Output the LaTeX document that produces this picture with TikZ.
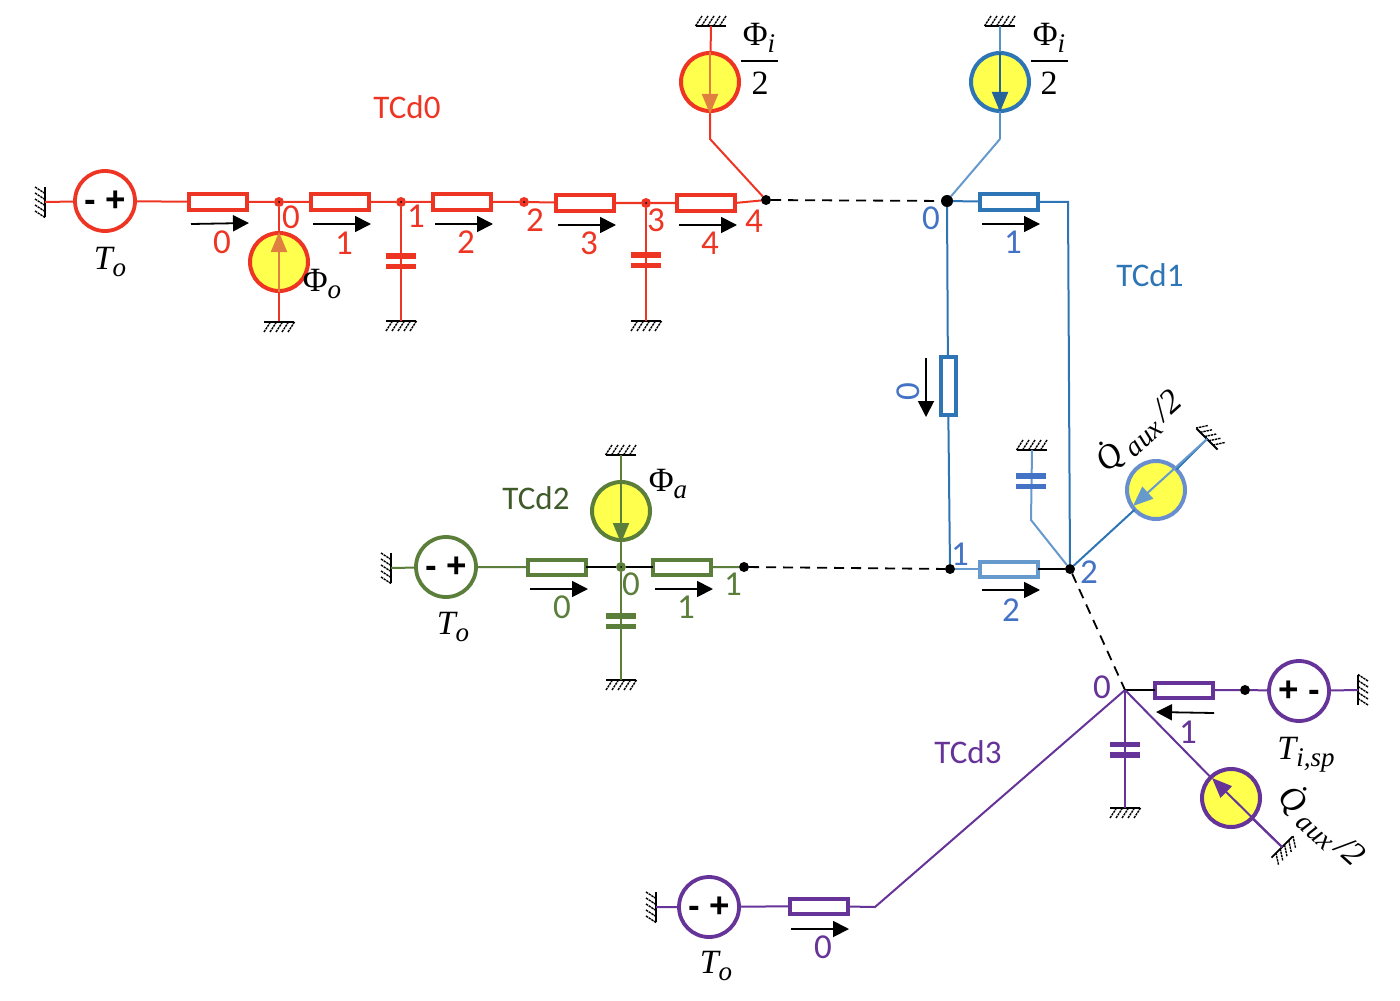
\documentclass[tikz,border=0pt]{standalone}
\usepackage{fontspec}
\setmainfont{Carlito}
\newfontfamily\srcfont{Liberation Sans}
\newfontfamily\mfont{Liberation Serif}
\usetikzlibrary{arrows.meta}
\definecolor{cred}{HTML}{EE3524}
\definecolor{corange}{HTML}{E08040}
\definecolor{cblue}{HTML}{2E75B6}
\definecolor{clblue}{HTML}{6699CC}
\definecolor{cnblue}{HTML}{4472C4}
\definecolor{cgreen}{HTML}{5B7F3B}
\definecolor{cdgreen}{HTML}{3F5B2A}
\definecolor{cpurple}{HTML}{663399}
\definecolor{cyel}{HTML}{FFFF4D}
\tikzset{
  wire/.style={line width=1pt},
  dashwire/.style={line width=0.9pt,black,dash pattern=on 5pt off 3.5pt},
  resh/.style={draw,line width=2pt,fill=white,minimum width=29pt,minimum height=7.5pt,inner sep=0pt,outer sep=0pt},
  resv/.style={draw,line width=2pt,fill=white,minimum width=7.5pt,minimum height=29pt,inner sep=0pt,outer sep=0pt},
  vsrc/.style={circle,draw,line width=1.9pt,fill=white,minimum size=30pt,inner sep=0pt,outer sep=0pt,text=black,font=\srcfont\bfseries\fontsize{17.5}{17.5}\selectfont},
  fsrc/.style={circle,draw,line width=2pt,fill=cyel,minimum size=29pt,inner sep=0pt,outer sep=0pt},
  dotk/.style={circle,fill=black,inner sep=0pt,outer sep=0pt,minimum size=5pt},
  dotb/.style={circle,fill=black,inner sep=0pt,outer sep=0pt,minimum size=6pt},
  dotc/.style={circle,fill=#1,inner sep=0pt,outer sep=0pt,minimum size=5pt,path picture={\fill[black] (path picture bounding box.center) circle (0.5pt);}},
  plate/.style={line width=2.8pt},
  flowarr/.style={line width=0.9pt,black,-{Triangle[length=8pt,width=8pt]}},
  inarr/.style={line width=1pt,-{Triangle[length=10pt,width=8pt]}},
  lab/.style={font=\fontsize{17.5}{17.5}\selectfont,inner sep=0pt},
  ttl/.style={font=\fontsize{16.5}{16.5}\selectfont,inner sep=0pt},
  mth/.style={font=\mfont\fontsize{17}{17}\selectfont,inner sep=0pt,text=black},
  gnd/.pic={
    \draw[black,line width=0.9pt] (-15,0)--(15,0);
    \foreach \q in {-12,-6,0,6,12} \draw[black,line width=0.7pt,dash pattern=on 1.2pt off 0.4pt] (\q-3,10)--(\q+3.5,0);
  }
}
\newcommand{\flowa}[3]{\coordinate (#1s) at (#2); \coordinate (#1e) at (#3); \draw[flowarr] (#1s)--(#1e);}
\newcommand{\capa}[3]{\draw[plate,#1] (#2-15,#3)--(#2+15,#3); \draw[plate,#1] (#2-15,#3+10.5)--(#2+15,#3+10.5);}
\newcommand{\msub}[2]{{\itshape #1\raisebox{-3.5pt}{\fontsize{13.5}{13.5}\selectfont #2}}}
\newcommand{\msubu}[2]{{#1\raisebox{-3.5pt}{\fontsize{13.5}{13.5}\selectfont\itshape #2}}}
\newcommand{\qaux}{{\itshape \.{Q}\,\raisebox{-3.5pt}{\fontsize{14}{14}\selectfont aux}\,/2}}
\begin{document}
\begin{tikzpicture}[x=0.5pt,y=-0.5pt]
\useasboundingbox (0,0) rectangle (1400,1000);
% ---------- TCd0 red
\begin{scope}[cred]
\coordinate (gr1) at (45,202);
\pic[rotate=-90] at (gr1) {gnd};
\node[vsrc] (sr1) at (105,201) {- +};
\node[resh] (r00) at (218,202) {};
\node[dotc=cred] (n00) at (279,202) {};
\node[resh] (r01) at (340,202) {};
\node[dotc=cred] (n01) at (401,202) {};
\node[resh] (r02) at (462,202) {};
\node[dotc=cred] (n02) at (524,202) {};
\node[resh] (r03) at (585,203) {};
\node[dotc=cred] (n03) at (646,203) {};
\node[resh] (r04) at (706,203) {};
\node[dotk] (n04) at (766,200) {};
\draw[wire] (gr1)--(sr1) (sr1)--(r00) (r00)--(n00) (n00)--(r01) (r01)--(n01) (n01)--(r02) (r02)--(n02) (n02)--(r03) (r03)--(n03) (n03)--(r04);
\draw[wire] (r04.east)--(n04);
\node[fsrc] (fo) at (279,262) {};
\coordinate (go) at (279,322);
\draw[wire] (n00)--(fo) (fo)--(go);
\pic at (go) {gnd};
\coordinate (foa) at (279,292); \coordinate (fob) at (279,232);
\draw[inarr,corange] (foa)--(fob);
\coordinate (gc1) at (401,321); \coordinate (gc3) at (646,321);
\pic at (gc1) {gnd}; \pic at (gc3) {gnd};
\draw[wire] (n01)--(gc1) (n03)--(gc3);
\capa{cred}{401}{256}
\capa{cred}{646}{255}
\node[fsrc] (fi0) at (710,82) {};
\coordinate (gi0) at (711,26);
\coordinate (ki0) at (710,139);
\pic[rotate=180] at (gi0) {gnd};
\draw[wire] (gi0)--(fi0) (fi0)--(ki0)--(n04);
\coordinate (fi0a) at (710,52); \coordinate (fi0b) at (710,114);
\draw[inarr,corange] (fi0a)--(fi0b);
\node[lab] (l0r0) at (222,242) {0};
\node[lab] (l0r1) at (344,243) {1};
\node[lab] (l0r2) at (466,242) {2};
\node[lab] (l0r3) at (589,243) {3};
\node[lab] (l0r4) at (710,243) {4};
\node[lab] (l0n0) at (291,217) {0};
\node[lab] (l0n1) at (416,216) {1};
\node[lab] (l0n2) at (535,220) {2};
\node[lab] (l0n3) at (656,220) {3};
\node[lab] (l0n4) at (754,221) {4};
\node[ttl] (tcd0) at (407,107) {TCd0};
\end{scope}
\flowa{a00}{191,224}{249,223}
\flowa{a01}{313,224}{371,224}
\flowa{a02}{435,224}{493,224}
\flowa{a03}{558,225}{616,225}
\flowa{a04}{679,225}{737,225}
\node[mth] (to0) at (110,262) {\msub{T}{o}};
\node[mth] (phio) at (322,284) {\msubu{Φ}{o}};
\node[mth] (phi0t) at (759,38) {\msubu{Φ}{i}};
\coordinate (bar0a) at (741,61); \coordinate (bar0b) at (778,61);
\draw[black,line width=1.1pt] (bar0a)--(bar0b);
\node[mth] (phi0b) at (760,83) {2};
% ---------- TCd1 blue
\node[dotb] (n10) at (947,201) {};
\node[resh,draw=cblue] (r11) at (1009,202) {};
\coordinate (k11) at (1068,202);
\node[resv,draw=cblue] (r10) at (948,386) {};
\node[dotk] (n11) at (950,569) {};
\node[resh,draw=clblue] (r12) at (1009,569) {};
\node[dotk] (n12) at (1070,569) {};
\draw[wire,cblue] (n10)--(r11) (r11)--(k11)--(n12);
\draw[wire,cblue] (n10)--(r10) (r10)--(n11);
\draw[wire,clblue] (n11)--(r12);
\draw[wire,black] (r12)--(n12);
\node[fsrc,draw=cblue] (fi1) at (1000,82) {};
\coordinate (gi1) at (1000,26);
\coordinate (ki1) at (1000,139);
\pic[rotate=180] at (gi1) {gnd};
\draw[wire,cblue!80!white] (gi1)--(fi1) (fi1)--(ki1);
\draw[wire,clblue] (ki1)--(n10);
\coordinate (fi1a) at (1000,52); \coordinate (fi1b) at (1000,112);
\draw[inarr,cblue!85!black] (fi1a)--(fi1b);
\coordinate (gc2) at (1032,450); \coordinate (kc2) at (1031,520);
\pic[rotate=180] at (gc2) {gnd};
\draw[wire,clblue] (gc2)--(kc2)--(n12);
\capa{cnblue}{1031}{476}
\node[fsrc,draw=cnblue!80!white] (fq1) at (1156,490) {};
\coordinate (gq1) at (1207,439);
\pic[rotate=135] at (gq1) {gnd};
\draw[wire,cblue] (n12)--(fq1) (fq1)--(gq1);
\coordinate (fq1b) at (1133,506);
\draw[inarr,clblue] (gq1)--(fq1b);
\flowa{a10}{926,358}{926,417}
\flowa{a11}{982,224}{1040,224}
\flowa{a12}{982,590}{1040,590}
\begin{scope}[cnblue]
\node[lab] (l1n0) at (931,218) {0};
\node[lab] (l1r1) at (1013,242) {1};
\node[lab,rotate=90] (l1r0) at (908,392) {0};
\node[lab] (l1n1) at (960,554) {1};
\node[lab] (l1n2) at (1089,572) {2};
\node[lab] (l1r2) at (1011,610) {2};
\end{scope}
\node[ttl,cblue] (tcd1) at (1150,275) {TCd1};
\node[mth] (phi1t) at (1049,38) {\msubu{Φ}{i}};
\coordinate (bar1a) at (1031,61); \coordinate (bar1b) at (1068,61);
\draw[black,line width=1.1pt] (bar1a)--(bar1b);
\node[mth] (phi1b) at (1049,83) {2};
\node[mth,rotate=42] (q1) at (1139,431) {\qaux};
% ---------- dashed links
\draw[dashwire] (n04)--(n10);
% ---------- TCd2 green
\begin{scope}[cgreen]
\coordinate (gg1) at (391,568);
\pic[rotate=-90] at (gg1) {gnd};
\node[vsrc] (sg1) at (446,567) {- +};
\node[resh] (r20) at (557,567) {};
\node[dotc=cgreen] (n20) at (621,567) {};
\node[resh] (r21) at (682,567) {};
\node[dotk] (n21) at (744,567) {};
\draw[wire] (gg1)--(sg1) (sg1)--(r20) (r21)--(n21);
\draw[wire,black] (r20)--(n20) (n20)--(r21);
\node[fsrc] (fa) at (621,511) {};
\coordinate (ga) at (621,455);
\pic[rotate=180] at (ga) {gnd};
\draw[wire] (ga)--(fa) (fa)--(n20);
\coordinate (faa) at (621,482); \coordinate (fab) at (621,543);
\draw[inarr,cgreen] (faa)--(fab);
\coordinate (gcg) at (621,680);
\pic at (gcg) {gnd};
\draw[wire] (n20)--(gcg);
\capa{cgreen}{621}{616}
\node[lab] (l2n0) at (631,584) {0};
\node[lab] (l2r0) at (562,607) {0};
\node[lab] (l2r1) at (686,607) {1};
\node[lab] (l2n1) at (733,584) {1};
\end{scope}
\draw[dashwire] (n21)--(n11);
\flowa{a20}{530,589}{588,589}
\flowa{a21}{655,589}{713,589}
\node[ttl,cdgreen] (tcd2) at (536,498) {TCd2};
\node[mth] (to2) at (453,627) {\msub{T}{o}};
\node[mth] (phia) at (668,484) {\msubu{Φ}{a}};
% ---------- TCd3 purple
\begin{scope}[cpurple]
\coordinate (gp1) at (656,907);
\pic[rotate=-90] at (gp1) {gnd};
\node[vsrc] (sp1) at (709,907) {- +};
\node[resh] (r30) at (819,906) {};
\coordinate (k30) at (875,907);
\coordinate (n30) at (1125,690);
\draw[wire] (gp1)--(sp1) (sp1)--(r30) (r30)--(k30)--(n30);
\node[resh] (r31) at (1184,690) {};
\node[dotk] (n31) at (1245,690) {};
\node[vsrc] (sp2) at (1299,691) {+ -};
\coordinate (gp2) at (1358,690);
\pic[rotate=90] at (gp2) {gnd};
\draw[wire,black] (n30)--(r31);
\draw[wire] (r31)--(n31) (n31)--(sp2) (sp2)--(gp2);
\coordinate (gcp) at (1125,808);
\pic at (gcp) {gnd};
\draw[wire] (n30)--(gcp);
\capa{cpurple}{1125}{744.5}
\node[fsrc] (fq3) at (1231,798) {};
\coordinate (gq3) at (1282,847);
\coordinate (fq3b) at (1212,778);
\pic[rotate=45] at (gq3) {gnd};
\draw[wire] (n30)--(fq3) (fq3)--(gq3);
\draw[inarr] (gq3)--(fq3b);
\node[lab] (l3r0) at (823,947) {0};
\node[lab] (l3n0) at (1102,687) {0};
\node[lab] (l3r1) at (1188,732) {1};
\end{scope}
\draw[dashwire] (n12)--(n30);
\flowa{a30}{791,929}{849,929}
\flowa{a31}{1214,713}{1156,712}
\node[ttl,cpurple] (tcd3) at (968,752) {TCd3};
\node[mth] (to3) at (716,966) {\msub{T}{o}};
\node[mth] (tisp) at (1306,755) {\msub{T}{i,sp}};
\node[mth,rotate=-42] (q3) at (1322,826) {\qaux};
\end{tikzpicture}
\end{document}
